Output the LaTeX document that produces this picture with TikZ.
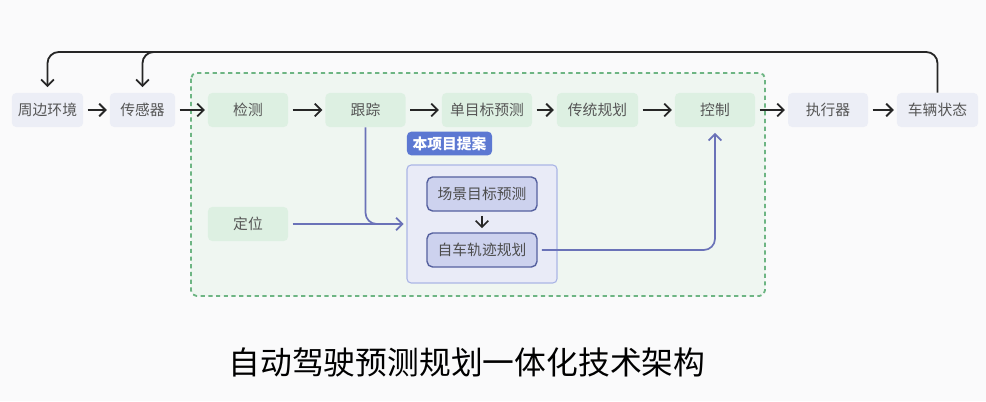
\documentclass[tikz,border=0pt]{standalone}
\usepackage{fontspec}
\newfontfamily\cjk{Noto Sans CJK SC}
\usetikzlibrary{arrows.meta,calc,positioning}
\definecolor{bgpaper}{HTML}{FAFAFB}
\definecolor{outerfill}{HTML}{ECEEF6}
\definecolor{greenfill}{HTML}{DDF0E2}
\definecolor{regionfill}{HTML}{EFF6F1}
\definecolor{regiondraw}{HTML}{6DB583}
\definecolor{textgray}{HTML}{555555}
\definecolor{labelblue}{HTML}{5C78D2}
\definecolor{propbg}{HTML}{E9EBF7}
\definecolor{propborder}{HTML}{ABB6E6}
\definecolor{stepfill}{HTML}{CDD2EE}
\definecolor{stepdraw}{HTML}{56619F}
\definecolor{linkblue}{HTML}{6A72B8}

\begin{document}
\begin{tikzpicture}[x=0.025cm,y=-0.025cm,
    every node/.style={font=\cjk\fontsize{10.5}{12}\selectfont,text=textgray},
    outer/.style={fill=outerfill,rounded corners=3pt,minimum height=0.85cm},
    inside/.style={fill=greenfill,rounded corners=3pt,minimum height=0.85cm},
    proposal/.style={fill=stepfill,draw=stepdraw,line width=1pt,rounded corners=4pt,minimum width=2.75cm,minimum height=0.85cm,text=black!70},
    flow/.style={-{Straight Barb[length=4.5pt,width=9pt]},line width=1.3pt,black!85},
    blueflow/.style={-{Straight Barb[length=4.5pt,width=9pt]},line width=1.2pt,linkblue}]

    % page and dashed region
    \fill[bgpaper] (0,0) rectangle (986,401);
    \draw[regiondraw,fill=regionfill,line width=1.3pt,dash pattern=on 3pt off 2.5pt,rounded corners=4pt] (191,73) rectangle (765,296);

    % main row
    \foreach \n/\x/\w/\s/\t in {ENV/47.5/1.78/outer/周边环境, SENSOR/142.5/1.63/outer/传感器,
        DETECT/248/2/inside/检测, TRACK/365.5/2/inside/跟踪, SINGLE/487/2.25/inside/单目标预测,
        CLASSIC/597.5/2.03/inside/传统规划, CTRL/715/2/inside/控制,
        ACT/828/2/outer/执行器, STATE/937.5/2.03/outer/车辆状态} {
      \node[\s,minimum width=\w cm] (\n) at (\x,110) {\t};
    }
    \foreach \a/\b in {ENV/SENSOR,SENSOR/DETECT,DETECT/TRACK,TRACK/SINGLE,SINGLE/CLASSIC,CLASSIC/CTRL,CTRL/ACT,ACT/STATE}
      \draw[flow,shorten <=3pt,shorten >=2pt] (\a) -- (\b);

    % feedback from vehicle state
    \coordinate (TOP) at (47,52);
    \draw[flow,rounded corners=8pt,shorten >=4pt] (STATE.north) |- (ENV.north |- TOP) -- (ENV.north);
    \draw[flow,rounded corners=8pt,shorten >=4pt] ($(SENSOR.north |- TOP)+(20,0)$) -| (SENSOR.north);

    % proposal block
    \node[fill=propbg,draw=propborder,line width=0.8pt,rounded corners=3pt,minimum width=3.75cm,minimum height=2.95cm] (PLAN) at (482,224) {};
    \node[fill=labelblue,rounded corners=3pt,minimum width=2.125cm,minimum height=0.575cm,text=white,font=\cjk\bfseries\fontsize{10.5}{12}\selectfont] (TAG) at (449.5,143.5) {本项目提案};
    \node[proposal] (SCENE) at (482,194) {场景目标预测};
    \node[proposal] (EGO) at (482,250) {自车轨迹规划};
    \draw[flow,line width=1.1pt,shorten <=3pt,shorten >=3pt] (SCENE) -- (EGO);

    \node[inside,minimum width=2cm] (LOC) at (248,224) {定位};

    % links into and out of the proposal
    \draw[blueflow,shorten <=3pt,shorten >=2pt] (LOC) -- (PLAN.west);
    \draw[blueflow,-,rounded corners=8pt] (TRACK.south) |- ($(PLAN.west)+(-20,0)$);
    \draw[blueflow,rounded corners=8pt,shorten <=3pt,shorten >=4pt] (EGO.east) -| (CTRL.south);

    % caption
    \node[font=\cjk\fontsize{22.6}{27}\selectfont,text=black] (TITLE) at (467,362) {自动驾驶预测规划一体化技术架构};
\end{tikzpicture}
\end{document}
